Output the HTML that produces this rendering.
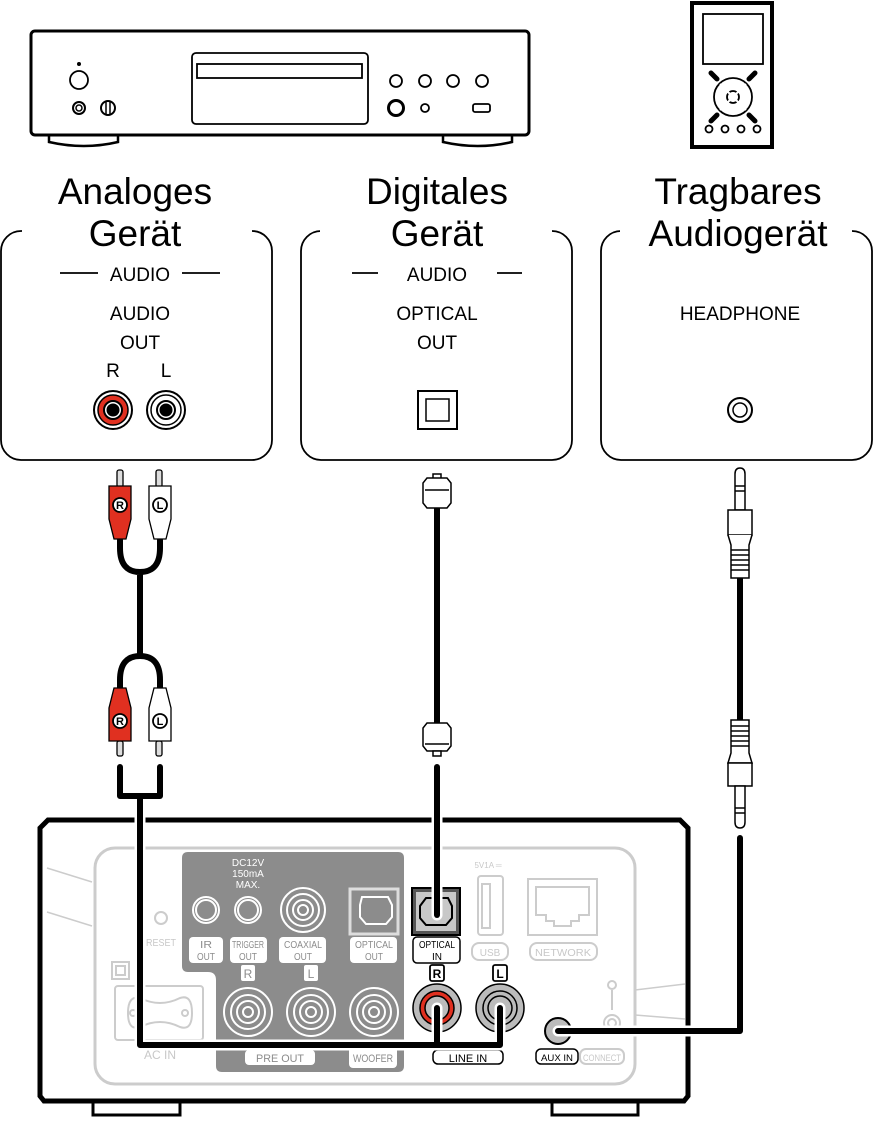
<!DOCTYPE html>
<html><head><meta charset="utf-8"><style>
html,body{margin:0;padding:0;background:#fff}
svg{display:block}
text{font-family:"Liberation Sans",sans-serif}
</style></head><body>
<svg width="874" height="1124" viewBox="0 0 874 1124" xmlns="http://www.w3.org/2000/svg">
<!-- CD player -->
<g fill="none" stroke="#000">
<path d="M49 135 v7 q35 8 69 0 v-7" stroke-width="2.5"/>
<path d="M443 135 v7 q35 8 69 0 v-7" stroke-width="2.5"/>
<rect x="31" y="31" width="498" height="104" rx="4" stroke-width="3" fill="#fff"/>
<rect x="192" y="53" width="176" height="71" rx="4" stroke-width="1.8"/>
<rect x="197" y="64" width="165" height="14" stroke-width="1.8"/>
<circle cx="79" cy="80" r="9" stroke-width="1.8"/>
<circle cx="79" cy="64" r="1.5" fill="#000"/>
<circle cx="79" cy="108" r="6" stroke-width="2"/><circle cx="79" cy="108" r="3" stroke-width="1.5"/>
<circle cx="108" cy="108" r="7" stroke-width="2"/><line x1="106" y1="101" x2="106" y2="115" stroke-width="1.5"/><line x1="110" y1="101" x2="110" y2="115" stroke-width="1.5"/>
<circle cx="396" cy="81" r="6" stroke-width="1.8"/><circle cx="425" cy="81" r="6" stroke-width="1.8"/>
<circle cx="453" cy="81" r="6" stroke-width="1.8"/><circle cx="482" cy="81" r="6" stroke-width="1.8"/>
<circle cx="396" cy="108" r="7.5" stroke-width="3"/><circle cx="425" cy="108" r="4" stroke-width="1.8"/>
<rect x="473" y="104" width="17" height="8" rx="2" stroke-width="1.8"/>
</g>
<!-- portable player -->
<g fill="none" stroke="#000">
<rect x="692" y="3" width="80" height="144" stroke-width="4"/>
<rect x="703" y="14" width="60" height="50" stroke-width="1.8"/>
<circle cx="733" cy="97" r="19" stroke-width="1.8"/>
<circle cx="733" cy="97" r="6" stroke-width="1.8"/>
<path d="M717 79 l-6 -6 M749 79 l6 -6 M717 115 l-6 6 M749 115 l6 6" stroke-width="5" stroke-linecap="round"/>
<path d="M720 84 L746 110 M746 84 L720 110" stroke="#fff" stroke-width="2"/>
<circle cx="709" cy="129" r="3.5" stroke-width="1.8"/><circle cx="725" cy="129" r="3.5" stroke-width="1.8"/>
<circle cx="741" cy="129" r="3.5" stroke-width="1.8"/><circle cx="757" cy="129" r="3.5" stroke-width="1.8"/>
</g>
<!-- panels -->
<g fill="none" stroke="#000" stroke-width="1.8">
<rect x="1" y="231" width="271" height="229" rx="20"/>
<rect x="301" y="231" width="271" height="229" rx="20"/>
<rect x="601" y="231" width="271" height="229" rx="20"/>
</g>
<g fill="#fff">
<rect x="22" y="222" width="230" height="20"/>
<rect x="320" y="222" width="232" height="20"/>
<rect x="620" y="222" width="232" height="20"/>
</g>
<g font-size="37" text-anchor="middle" fill="#000">
<text x="135" y="204">Analoges</text><text x="135" y="246">Gerät</text>
<text x="437" y="204">Digitales</text><text x="437" y="246">Gerät</text>
<text x="738" y="204">Tragbares</text><text x="738" y="246">Audiogerät</text>
</g>
<g font-size="19" text-anchor="middle" fill="#000">
<text x="140" y="281">AUDIO</text>
<text x="140" y="320">AUDIO</text><text x="140" y="349">OUT</text>
<text x="113" y="377">R</text><text x="166" y="377">L</text>
<text x="437" y="281">AUDIO</text>
<text x="437" y="320">OPTICAL</text><text x="437" y="349">OUT</text>
<text x="740" y="320">HEADPHONE</text>
</g>
<g stroke="#000" stroke-width="1.8">
<line x1="60" y1="273" x2="98" y2="273"/><line x1="182" y1="273" x2="220" y2="273"/>
<line x1="352" y1="273" x2="378" y2="273"/><line x1="497" y1="273" x2="522" y2="273"/>
</g>
<g stroke="#000">
<circle cx="113" cy="410" r="19" fill="#fff" stroke-width="2"/>
<circle cx="113" cy="410" r="15" fill="#e03020" stroke-width="1.5"/>
<circle cx="113" cy="410" r="9" fill="#fff" stroke-width="2"/>
<circle cx="113" cy="410" r="6" fill="#000"/>
<circle cx="166" cy="410" r="19" fill="#fff" stroke-width="2"/>
<circle cx="166" cy="410" r="15" fill="#fff" stroke-width="1.5"/>
<circle cx="166" cy="410" r="9" fill="#fff" stroke-width="2"/>
<circle cx="166" cy="410" r="6" fill="#000"/>
<rect x="418" y="391" width="39" height="38" fill="#fff" stroke-width="2"/>
<rect x="426" y="399" width="23" height="22" fill="#fff" stroke-width="1.5"/>
<circle cx="740" cy="410" r="12" fill="#fff" stroke-width="2"/>
<circle cx="740" cy="410" r="7" fill="#fff" stroke-width="1.5"/>
</g>
<!-- Receiver -->
<g>
<path d="M93 1100 v15 h87 v-15 M552 1100 v15 h86 v-15" fill="#fff" stroke="#000" stroke-width="3"/>
<path d="M48 820 L680 820 L688 828 L688 1096 L684 1101 L44 1101 L40 1096 L40 828 Z" fill="#fff" stroke="#000" stroke-width="5"/>
<path d="M47 868 l45 14 M47 912 l45 14 M635 990 l50 -6 M635 1015 l50 4" stroke="#ccc" stroke-width="1.5"/>
<rect x="95" y="848" width="540" height="236" rx="20" fill="#fff" stroke="#ccc" stroke-width="3"/>
<path d="M188 852 h210 q6 0 6 6 v208 q0 6 -6 6 h-176 q-6 0 -6 -6 v-86 q0 -8 -8 -8 h-20 q-6 0 -6 -6 v-108 q0 -6 6 -6 z" fill="#8c8c8c"/>
</g>
<g fill="#fff" font-size="10" text-anchor="middle">
<text x="248" y="866">DC12V</text><text x="248" y="877">150mA</text><text x="248" y="888">MAX.</text>
</g>
<g stroke="#fff" fill="none" stroke-width="2">
<circle cx="206" cy="910" r="13"/><circle cx="206" cy="910" r="10"/>
<circle cx="248" cy="910" r="13"/><circle cx="248" cy="910" r="10"/>
<circle cx="303" cy="910" r="22"/><circle cx="303" cy="910" r="16"/><circle cx="303" cy="910" r="10"/><circle cx="303" cy="910" r="5"/>
<rect x="350" y="889" width="48" height="45" stroke="#ddd" stroke-width="3"/>
<path d="M362 897 h26 l4 8 v12 l-6 7 h-20 l-6 -7 v-12 z"/>
<circle cx="248" cy="1012" r="24"/><circle cx="248" cy="1012" r="17"/><circle cx="248" cy="1012" r="11"/><circle cx="248" cy="1012" r="5"/>
<circle cx="311" cy="1012" r="24"/><circle cx="311" cy="1012" r="17"/><circle cx="311" cy="1012" r="11"/><circle cx="311" cy="1012" r="5"/>
<circle cx="374" cy="1012" r="24"/><circle cx="374" cy="1012" r="17"/><circle cx="374" cy="1012" r="11"/><circle cx="374" cy="1012" r="5"/>
</g>
<g fill="#fff">
<rect x="189" y="937" width="34" height="26" rx="4"/><rect x="230" y="937" width="37" height="26" rx="4"/>
<rect x="279" y="937" width="47" height="26" rx="4"/><rect x="350" y="937" width="47" height="26" rx="4"/>
<rect x="241" y="965" width="14" height="16" rx="2"/><rect x="304" y="965" width="14" height="16" rx="2"/>
<rect x="245" y="1050" width="70" height="15" rx="4"/><rect x="349" y="1044" width="48" height="24" rx="4"/>
</g>
<g fill="#8c8c8c" font-size="10" text-anchor="middle">
<text x="206" y="948" textLength="12" lengthAdjust="spacingAndGlyphs">IR</text><text x="206" y="960" textLength="18" lengthAdjust="spacingAndGlyphs">OUT</text>
<text x="248" y="948" textLength="32" lengthAdjust="spacingAndGlyphs">TRIGGER</text><text x="248" y="960" textLength="18" lengthAdjust="spacingAndGlyphs">OUT</text>
<text x="303" y="948" textLength="38" lengthAdjust="spacingAndGlyphs">COAXIAL</text><text x="303" y="960" textLength="18" lengthAdjust="spacingAndGlyphs">OUT</text>
<text x="374" y="948" textLength="38" lengthAdjust="spacingAndGlyphs">OPTICAL</text><text x="374" y="960" textLength="18" lengthAdjust="spacingAndGlyphs">OUT</text>
<text x="248" y="978" font-size="12">R</text><text x="311" y="978" font-size="12">L</text>
<text x="280" y="1062" font-size="11" textLength="48" lengthAdjust="spacingAndGlyphs">PRE OUT</text><text x="373" y="1062" font-size="11" textLength="40" lengthAdjust="spacingAndGlyphs">WOOFER</text>
</g>
<g fill="none" stroke="#ccc" stroke-width="2">
<circle cx="161" cy="918" r="6"/>
<rect x="112" y="962" width="17" height="17"/><rect x="116" y="966" width="9" height="9"/>
<rect x="115" y="986" width="88" height="54" rx="3"/>
<path d="M140 998 q20 10 40 0 q12 -4 12 15 q0 18 -12 14 q-20 -10 -40 0 q-12 4 -12 -14 q0 -18 12 -15z"/>
<circle cx="133" cy="1013" r="3"/><circle cx="185" cy="1013" r="3"/>
<rect x="478" y="876" width="25" height="59" rx="3"/><rect x="482" y="884" width="8" height="44"/>
<rect x="528" y="879" width="69" height="56"/><path d="M536 887 h53 v28 h-10 v6 h-8 v5 h-17 v-5 h-8 v-6 h-10z"/>
<rect x="472" y="943" width="36" height="17" rx="7"/><rect x="530" y="943" width="67" height="17" rx="7"/>
<rect x="580" y="1049" width="44" height="15" rx="6"/>
<circle cx="612" cy="985" r="4"/><line x1="612" y1="990" x2="612" y2="1010"/>
<circle cx="612" cy="1023" r="8"/><circle cx="612" cy="1023" r="4"/>
</g>
<g fill="#c8c8c8" font-size="10" text-anchor="middle">
<text x="161" y="946" textLength="30" lengthAdjust="spacingAndGlyphs">RESET</text><text x="160" y="1059" font-size="12">AC IN</text>
<text x="488" y="868" font-size="8">5V1A ═</text>
<text x="490" y="956">USB</text><text x="563" y="956" textLength="56" lengthAdjust="spacingAndGlyphs">NETWORK</text>
<text x="602" y="1061" font-size="9" textLength="38" lengthAdjust="spacingAndGlyphs">CONNECT</text>
</g>
<!-- Optical in -->
<rect x="412" y="888" width="48" height="47" fill="#555" stroke="#000" stroke-width="2"/>
<rect x="416" y="892" width="40" height="39" fill="#c8c8c8"/>
<path d="M426 898 h22 l4 8 v12 l-6 7 h-20 l-6 -7 v-12 z" fill="#c8c8c8" stroke="#000" stroke-width="2"/>
<rect x="413" y="937" width="47" height="26" rx="4" fill="#fff" stroke="#000" stroke-width="1.5"/>
<g font-size="10" text-anchor="middle" fill="#000"><text x="437" y="948" textLength="36" lengthAdjust="spacingAndGlyphs">OPTICAL</text><text x="437" y="960">IN</text></g>
<rect x="430" y="965" width="14" height="16" rx="2" fill="#fff" stroke="#000" stroke-width="1.8"/>
<rect x="493" y="965" width="14" height="16" rx="2" fill="#fff" stroke="#000" stroke-width="1.8"/>
<g font-size="12" font-weight="bold" text-anchor="middle"><text x="437" y="978">R</text><text x="500" y="978">L</text></g>
<g stroke="#000" stroke-width="1.5">
<circle cx="437" cy="1008" r="24" fill="#bbb"/><circle cx="437" cy="1008" r="17" fill="#e03020"/><circle cx="437" cy="1008" r="12" fill="#bbb"/>
<circle cx="500" cy="1008" r="24" fill="#bbb"/><circle cx="500" cy="1008" r="17" fill="#bbb"/><circle cx="500" cy="1008" r="12" fill="#bbb"/>
<circle cx="558" cy="1031" r="13" fill="#bbb" stroke-width="2"/>
</g>
<rect x="433" y="1050" width="70" height="14" rx="5" fill="#fff" stroke="#000" stroke-width="1.5"/>
<text x="468" y="1062" font-size="11" text-anchor="middle">LINE IN</text>
<rect x="536" y="1049" width="42" height="15" rx="5" fill="#fff" stroke="#000" stroke-width="1.5"/>
<text x="557" y="1061" font-size="9" text-anchor="middle" textLength="32" lengthAdjust="spacingAndGlyphs">AUX IN</text>
<!-- cables -->
<g fill="none" stroke-linecap="round" stroke-linejoin="round">
<path d="M140 800 V1045 H500 V1008 M437 1045 V1008" stroke="#fff" stroke-width="11"/>
<path d="M140 800 V1045 H500 V1008 M437 1045 V1008" stroke="#000" stroke-width="6"/>
<path d="M120 767 V796 H160 V767 M140 796 V810" stroke="#000" stroke-width="6"/>
<path d="M437 767 V915" stroke="#fff" stroke-width="11"/>
<path d="M437 767 V915" stroke="#000" stroke-width="6"/>
<path d="M740 838 V1031 H558" stroke="#fff" stroke-width="11"/>
<path d="M740 838 V1031 H558" stroke="#000" stroke-width="6"/>
<path d="M437 505 V725" stroke="#000" stroke-width="6"/>
<path d="M740 575 V722" stroke="#000" stroke-width="6"/>
<path d="M120 540 V548 Q120 572 140 572 Q160 572 160 548 V540 M140 572 V656" stroke="#000" stroke-width="6"/>
<path d="M120 690 V680 Q120 656 140 656 Q160 656 160 680 V690" stroke="#000" stroke-width="6"/>
</g>
<!-- RCA plugs -->
<g stroke="#000" stroke-width="1.3">
<rect x="117" y="470" width="6" height="17" rx="2" fill="#ddd"/>
<rect x="156" y="470" width="6" height="17" rx="2" fill="#ddd"/>
<path d="M109 486 h22 v33 l-5 20 h-12 l-5 -20z" fill="#e03020"/>
<path d="M149 486 h22 v33 l-5 20 h-12 l-5 -20z" fill="#fff"/>
<circle cx="120" cy="505" r="7" fill="#fff" stroke-width="1.8"/><circle cx="160" cy="505" r="7" fill="#fff" stroke-width="1.8"/>
<rect x="117" y="741" width="6" height="15" rx="2" fill="#ddd"/>
<rect x="156" y="741" width="6" height="15" rx="2" fill="#ddd"/>
<path d="M109 741 h22 v-33 l-5 -20 h-12 l-5 20z" fill="#e03020"/>
<path d="M149 741 h22 v-33 l-5 -20 h-12 l-5 20z" fill="#fff"/>
<circle cx="120" cy="721" r="7" fill="#fff" stroke-width="1.8"/><circle cx="160" cy="721" r="7" fill="#fff" stroke-width="1.8"/>
</g>
<g font-size="11" font-weight="bold" text-anchor="middle">
<text x="120" y="509">R</text><text x="160" y="509">L</text>
<text x="120" y="725">R</text><text x="160" y="725">L</text>
</g>
<!-- optical plugs -->
<g stroke="#000" stroke-width="1.5" fill="#fff">
<rect x="433" y="474" width="8" height="5"/>
<path d="M427 478 h20 l4 5 v20 l-4 5 h-20 l-4 -5 v-20z"/>
<path d="M425 490 h24"/>
<path d="M427 723 h20 l4 5 v18 l-4 5 h-20 l-4 -5 v-18z"/>
<path d="M425 744 h24"/>
<rect x="433" y="751" width="8" height="5"/>
</g>
<!-- headphone plugs -->
<g stroke="#000" stroke-width="1.5" fill="#fff">
<path d="M735 510 V474 q0 -6 5 -6 q5 0 5 6 V510z"/>
<path d="M735 486 h10 M735 491 h10"/>
<rect x="728" y="510" width="24" height="25"/>
<path d="M728 535 l3 10 v33 h18 v-33 l3 -10"/>
<path d="M731 550 h18 M731 555 h18 M731 560 h18 M731 565 h18 M731 570 h18"/>
<path d="M731 720 v33 l-3 10 h24 l-3 -10 v-33z"/>
<path d="M731 726 h18 M731 731 h18 M731 736 h18 M731 741 h18 M731 746 h18"/>
<rect x="728" y="763" width="24" height="23"/>
<path d="M735 786 V822 q0 6 5 6 q5 0 5 -6 V786z"/>
<path d="M735 808 h10 M735 813 h10"/>
</g>
</svg>
</body></html>
